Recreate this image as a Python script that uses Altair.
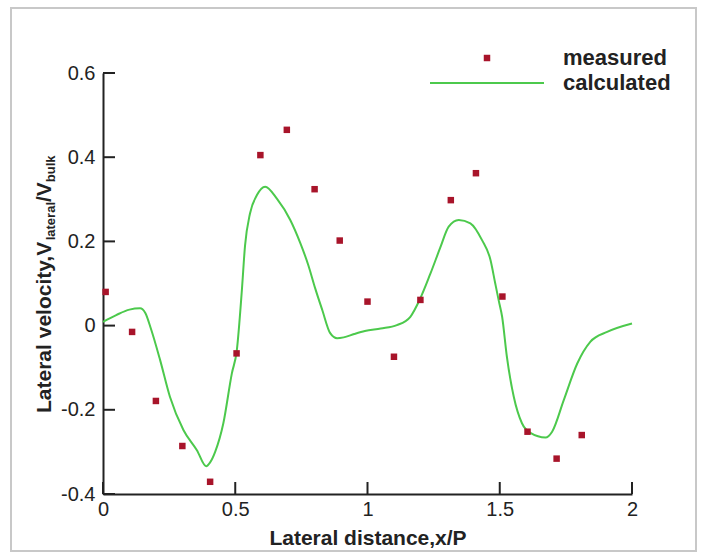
import altair as alt
import pandas as pd

# ---- data ----
meas_x = [0.01, 0.11, 0.2, 0.3, 0.405, 0.505, 0.595, 0.695, 0.8, 0.895,
          1.0, 1.1, 1.2, 1.315, 1.41, 1.51, 1.605, 1.715, 1.81]
meas_y = [0.080, -0.015, -0.179, -0.286, -0.371, -0.066, 0.405, 0.465, 0.324, 0.202,
          0.057, -0.074, 0.061, 0.298, 0.362, 0.069, -0.252, -0.316, -0.260]

calc_x = [0.0, 0.05, 0.1, 0.14, 0.16, 0.18, 0.216, 0.253, 0.304, 0.355,
          0.39, 0.405, 0.424, 0.455, 0.487, 0.506, 0.525, 0.537, 0.556, 0.582,
          0.613, 0.658, 0.708, 0.746, 0.776, 0.802, 0.829, 0.859, 0.885, 0.91,
          0.95, 0.99, 1.05, 1.111, 1.162, 1.197, 1.237, 1.275, 1.307, 1.345,
          1.389, 1.433, 1.465, 1.483, 1.496, 1.509, 1.527, 1.553, 1.584, 1.616,
          1.673, 1.698, 1.742, 1.793, 1.843, 1.906, 2.0]
calc_y = [0.009, 0.025, 0.038, 0.041, 0.03, -0.005, -0.082, -0.169, -0.248, -0.296,
          -0.334, -0.325, -0.3, -0.232, -0.114, -0.058, 0.084, 0.19, 0.267, 0.31,
          0.33, 0.301, 0.251, 0.196, 0.144, 0.089, 0.037, -0.018, -0.030, -0.028,
          -0.020, -0.013, -0.007, 0.001, 0.021, 0.061, 0.122, 0.185, 0.235, 0.251,
          0.243, 0.203, 0.156, 0.1, 0.06, 0.021, -0.074, -0.169, -0.232, -0.255,
          -0.266, -0.252, -0.177, -0.09, -0.038, -0.015, 0.005]

x_ticks = [0, 0.5, 1, 1.5, 2]
y_ticks = [-0.4, -0.2, 0, 0.2, 0.4, 0.6]

x_title = "Lateral distance,x/P"
legend_labels = ["measured", "calculated"]

# ---- styling ----
FONT = "Liberation Sans"
RED = "#a8142a"
GREEN = "#4cc94c"
AXC = "#222222"
W, H = 529, 421

meas = pd.DataFrame({"x": meas_x, "y": meas_y})
calc = pd.DataFrame({"x": calc_x, "y": calc_y, "o": list(range(len(calc_x)))})
xt = pd.DataFrame({"x": x_ticks})
yt = pd.DataFrame({"y": y_ticks})
one = pd.DataFrame({"k": [0]})

xs = alt.Scale(domain=[0, 2], nice=False, zero=False)
ys = alt.Scale(domain=[-0.4, 0.6], nice=False, zero=False)

xaxis = alt.Axis(values=x_ticks, labelExpr="toString(datum.value)", title=x_title,
                 domainColor=AXC, domainWidth=2, ticks=False, grid=False,
                 labelFont=FONT, labelFontSize=20, labelColor=AXC, labelPadding=5,
                 labelOverlap=False, labelFlush=False,
                 titleFont=FONT, titleFontSize=21, titleFontWeight="bold", titleColor=AXC,
                 titleY=50, titleBaseline="alphabetic")
yaxis = alt.Axis(values=y_ticks, labelExpr="toString(datum.value)", title=None,
                 domainColor=AXC, domainWidth=2, ticks=False, grid=False,
                 labelFont=FONT, labelFontSize=20, labelColor=AXC, labelPadding=8,
                 labelOverlap=False, labelFlush=False)

X = alt.X("x:Q", scale=xs, axis=xaxis)
Y = alt.Y("y:Q", scale=ys, axis=yaxis)

border = alt.Chart(one).mark_rect(fillOpacity=0, stroke="#c8c8c8", strokeWidth=2).encode(
    x=alt.value(-92), x2=alt.value(593), y=alt.value(-65), y2=alt.value(478))

line = alt.Chart(calc).mark_line(color=GREEN, strokeWidth=2, interpolate="monotone").encode(
    x=X, y=Y, order="o:Q")

pts = alt.Chart(meas).mark_square(color=RED, size=42, opacity=1).encode(x=X, y=Y)

xtick = alt.Chart(xt).mark_rule(color=AXC, strokeWidth=2).encode(
    x=X, y=alt.value(H), y2=alt.value(H - 12))
ytick = alt.Chart(yt).mark_rule(color=AXC, strokeWidth=2).encode(
    y=Y, x=alt.value(0), x2=alt.value(12))

# y axis title built from pieces (with subscripts)
def rtext(txt, x, y, size):
    return alt.Chart(one).mark_text(text=txt, angle=270, align="left", baseline="alphabetic",
                                    font=FONT, fontSize=size, fontWeight="bold", color=AXC).encode(
        x=alt.value(x), y=alt.value(y))

t1 = rtext("Lateral velocity,V", -52, 340, 21)
t2 = rtext("lateral", -48.5, 167.3, 13)
t3 = rtext("/V", -52, 129, 21)
t4 = rtext("bulk", -48.5, 109.2, 13)

# legend
leg_pt = alt.Chart(one).mark_square(color=RED, size=42, opacity=1).encode(
    x=alt.value(384), y=alt.value(-15))
leg_ln = alt.Chart(one).mark_rule(color=GREEN, strokeWidth=2).encode(
    x=alt.value(327), x2=alt.value(441), y=alt.value(10))
leg_t1 = alt.Chart(one).mark_text(text=legend_labels[0], align="left", baseline="middle",
                                  font=FONT, fontSize=22, fontWeight="bold", color=AXC).encode(
    x=alt.value(460), y=alt.value(-15))
leg_t2 = alt.Chart(one).mark_text(text=legend_labels[1], align="left", baseline="middle",
                                  font=FONT, fontSize=22, fontWeight="bold", color=AXC).encode(
    x=alt.value(460), y=alt.value(10))

chart = alt.layer(border, line, pts, xtick, ytick, t1, t2, t3, t4,
                  leg_pt, leg_ln, leg_t1, leg_t2).properties(
    width=W, height=H, autosize="none",
    padding={"left": 103, "top": 73, "right": 72, "bottom": 60},
    background="white",
).configure_view(stroke=None)

chart.save("out.html", embed_options={"renderer": "svg", "actions": False})
